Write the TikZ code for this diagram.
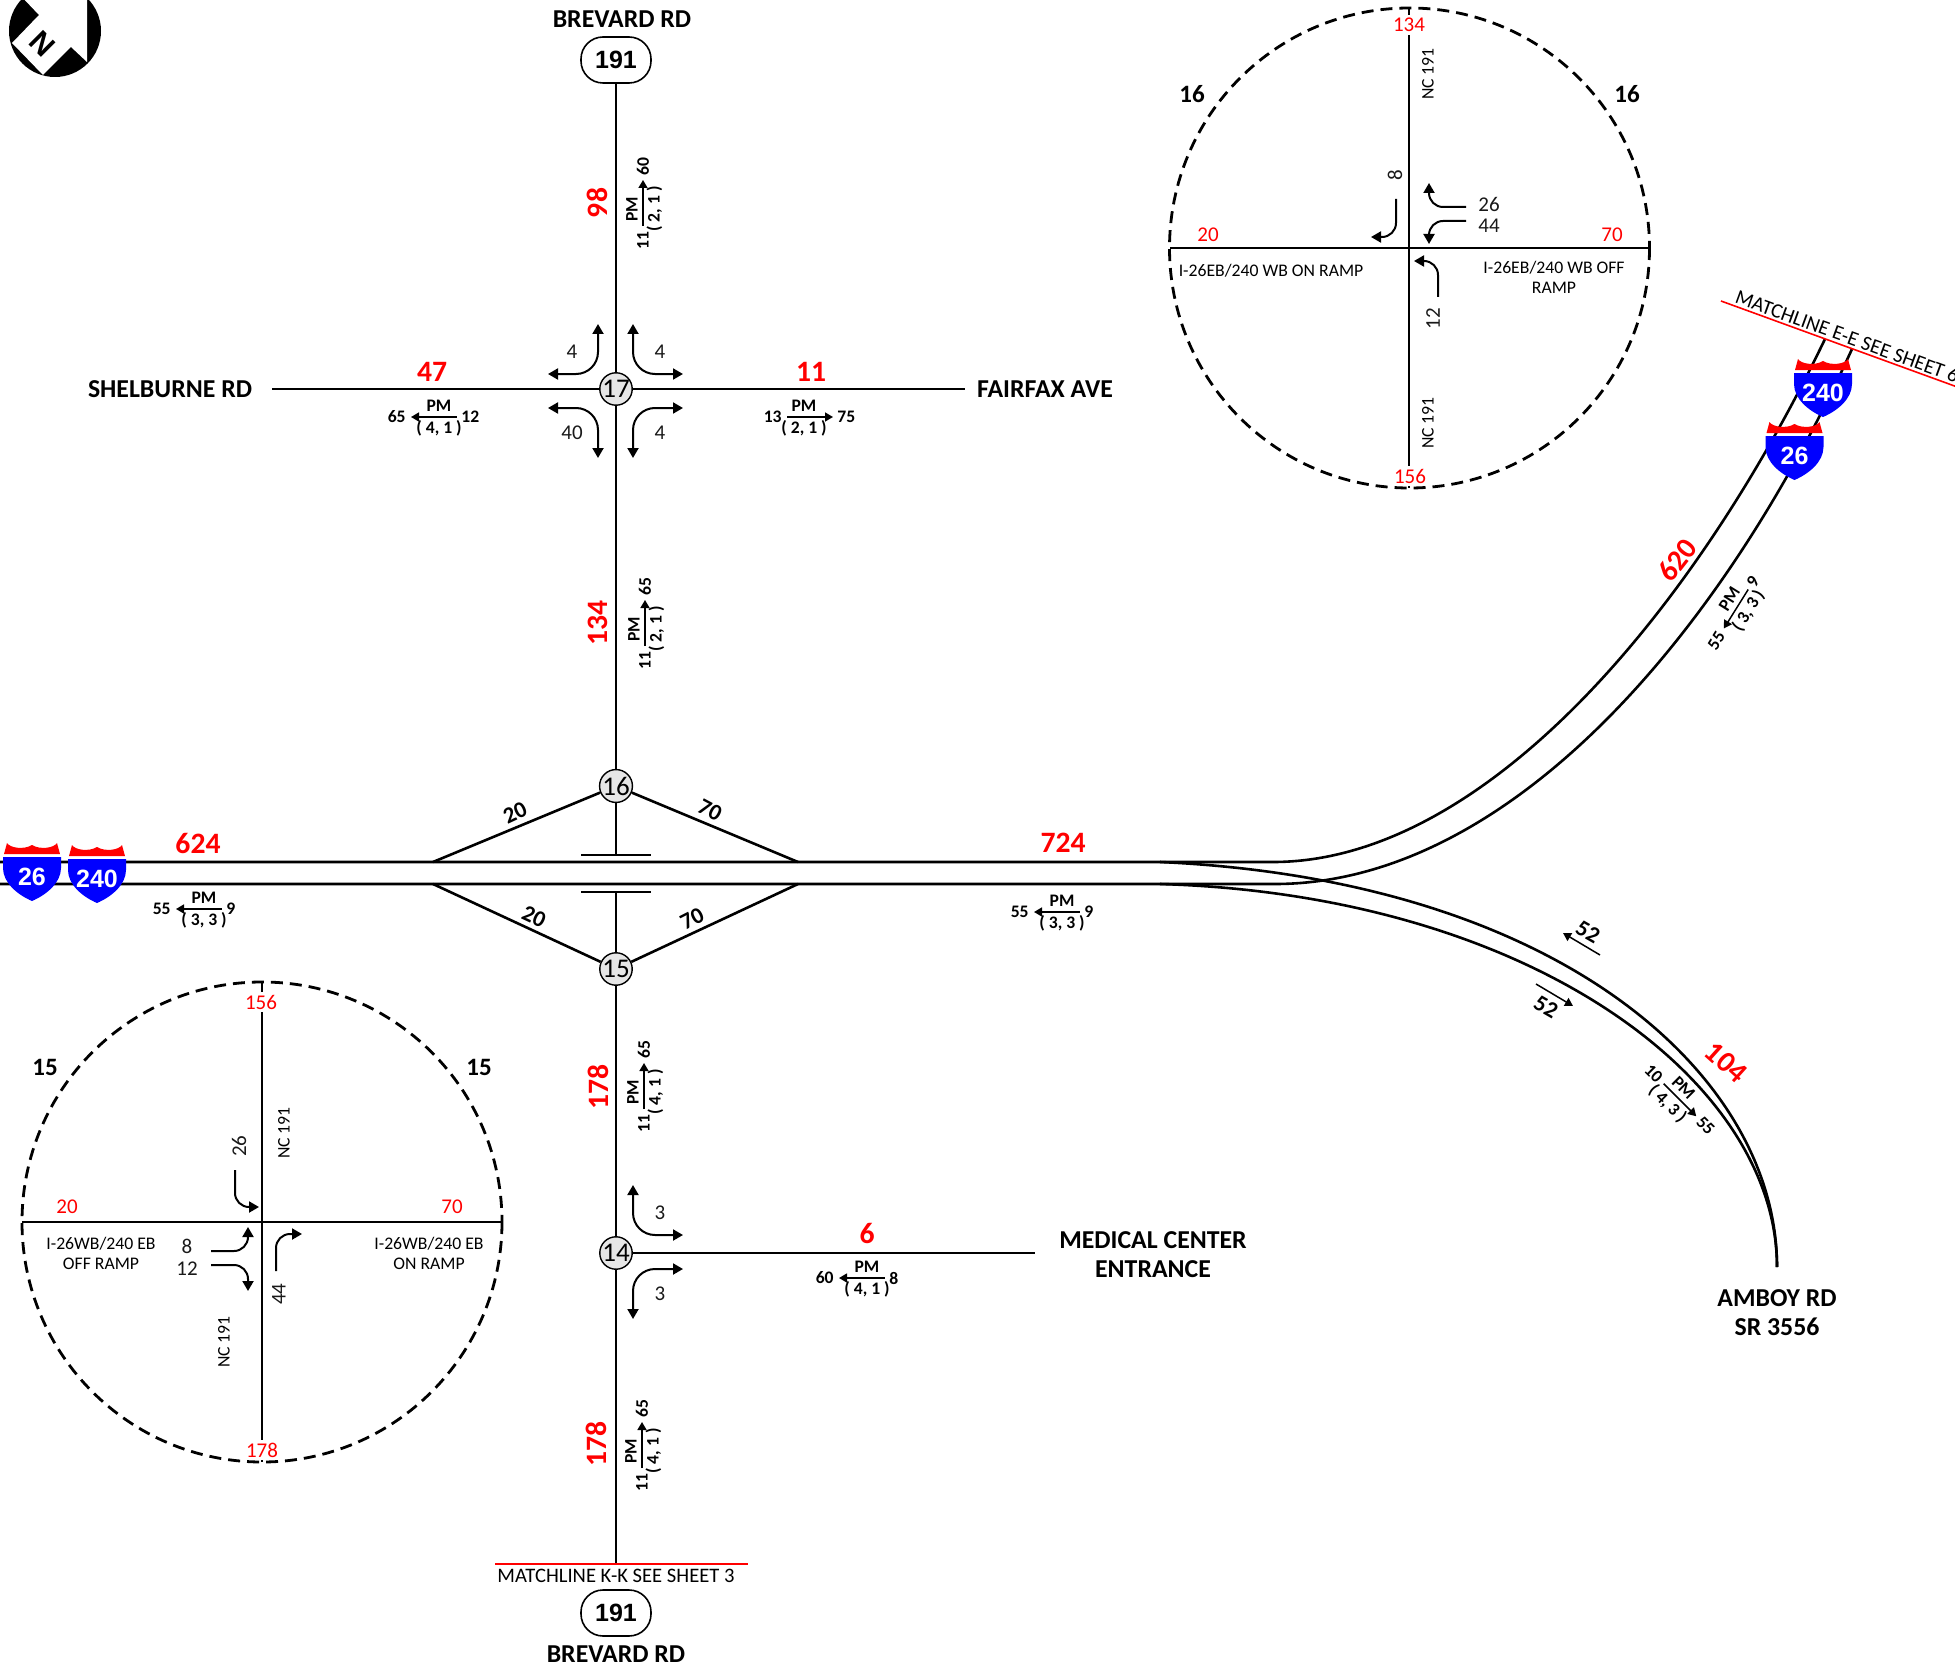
\documentclass[tikz,border=0pt]{standalone}
\usepackage{fontspec}
\setmainfont{Carlito}
\newfontfamily\shieldfont{Liberation Sans}
\usetikzlibrary{arrows.meta}

\definecolor{nodegray}{RGB}{230,230,230}
\tikzset{
  >={Triangle[length=5pt,width=5.5pt]},
  road/.style={line width=1.3pt},
  thinroad/.style={line width=1.2pt},
  matchline/.style={draw=red,line width=0.8pt},
  flowline/.style={line width=0.75pt,>={Triangle[length=4pt,width=4.5pt]}},
  turnline/.style={line width=1pt,rounded corners=11pt},
  smallturn/.style={line width=1pt,rounded corners=7pt},
  ring/.style={line width=1.4pt,dash pattern=on 6pt off 3.5pt},
  junction/.style={circle,draw,fill=nodegray,line width=0.7pt,minimum size=14pt,inner sep=0pt,font=\fontsize{13.5}{14}\selectfont},
  routeshield/.style={draw,line width=0.8pt,rounded corners=11pt,fill=white,minimum width=35pt,minimum height=23pt,inner sep=0pt,font=\shieldfont\bfseries\fontsize{12.5}{14}\selectfont},
  shieldtext/.style={text=white,inner sep=0pt,font=\shieldfont\bfseries\fontsize{12.5}{14}\selectfont},
  volume/.style={text=red,inner sep=0pt,font=\bfseries\fontsize{14.8}{16}\selectfont},
  roadname/.style={inner sep=0pt,align=center,font=\bfseries\fontsize{12.9}{14.5}\selectfont},
  tagtext/.style={inner sep=0pt,font=\bfseries\fontsize{8.8}{10}\selectfont},
  turncount/.style={inner sep=0pt,text=black!90,font=\fontsize{10.5}{12}\selectfont},
  rampcount/.style={inner sep=0pt,font=\bfseries\fontsize{11.5}{13}\selectfont},
  insetred/.style={inner sep=0pt,text=red,font=\fontsize{10.5}{12}\selectfont},
  insetredcap/.style={insetred,fill=white,inner sep=1.5pt},
  insetno/.style={inner sep=0pt,font=\bfseries\fontsize{12.5}{14}\selectfont},
  insettext/.style={inner sep=0pt,align=center,text=black,font=\fontsize{8.85}{10}\selectfont},
  matchtext/.style={inner sep=0pt,text=black,font=\fontsize{10.3}{11}\selectfont},
}

% flow tag: name, x, y, angle, tip, PM shift, left number, right number, lanes
\newcommand{\flowtag}[9]{%
  \begin{scope}[shift={(#2,#3)},rotate={-(#4)}]
    \coordinate (#1a) at (-23,0);
    \coordinate (#1b) at (23,0);
    \draw[flowline,#5] (#1a) -- (#1b);
    \node (#1p) [tagtext,rotate=#4] at (#6,-11) {PM};
    \node (#1q) [tagtext,rotate=#4] at (#6,11.5) {( #9 )};
    \node (#1l) [tagtext,rotate=#4,anchor=east] at (-28,0) {#7};
    \node (#1r) [tagtext,rotate=#4,anchor=west] at (27,0) {#8};
  \end{scope}}

% interstate shield: name, x, y of the top of the blue part, route
\newcommand{\ishield}[4]{%
  \begin{scope}[shift={(#2,#3)}]
    \fill[red] (-28,-3) -- (-25,-14) .. controls (-22,-9) and (-8,-7) .. (0,-12) .. controls (8,-7) and (22,-9) .. (25,-14) -- (28,-3) -- cycle;
    \fill[blue] (-29,0) -- (29,0) -- (29,11) .. controls (29,26) and (14,38) .. (0,44) .. controls (-14,38) and (-29,26) .. (-29,11) -- cycle;
    \node (#1) [shieldtext] at (0,20) {#4};
  \end{scope}}

\begin{document}
\begin{tikzpicture}[x=0.5pt,y=0.5pt,yscale=-1,xscale=1]
\useasboundingbox (0,0) rectangle (1955,1669);

% North arrow
\fill (55,31) circle[radius=46];
\fill[white] (12,43) -- (39,15) -- (20,-5) -- (87,-5) -- (87,62) -- (71,47) -- (43,75) -- cycle;
\draw (42,44) node (north) [rotate=-45,inner sep=0pt,font=\shieldfont\bfseries\fontsize{15}{16}\selectfont] {N};

% Junctions
\draw (616,389) node (j17) [junction] {17};
\draw (616,786) node (j16) [junction] {16};
\draw (616,969) node (j15) [junction] {15};
\draw (616,1253) node (j14) [junction] {14};
\draw (616,60) node (top191) [routeshield] {191};
\draw (616,1613) node (bot191) [routeshield] {191};

% Road ends
\coordinate (shel) at (272,389);
\coordinate (fair) at (965,389);
\coordinate (medi) at (1035,1253);
\coordinate (bridgeN) at (616,855);
\coordinate (bridgeS) at (616,892);
\coordinate (lineK) at (616,1564);
\coordinate (rampNW) at (433,862);
\coordinate (rampNE) at (798,862);
\coordinate (rampSW) at (433,884);
\coordinate (rampSE) at (798,884);

%Straight Lines
\draw [road] (top191) -- (j17);
\draw [road] (j17) -- (j16);
\draw [road] (j17) -- (shel);
\draw [road] (j17) -- (fair);
\draw [road] (j16) -- (bridgeN);
\draw [road] (j15) -- (bridgeS);
\draw [road] (j15) -- (j14);
\draw [road] (j14) -- (medi);
\draw [road] (j14) -- (lineK);
\draw [thinroad] (581,855) -- (651,855);
\draw [thinroad] (581,892) -- (651,892);
\draw [road] (j16) -- (rampNW);
\draw [road] (j16) -- (rampNE);
\draw [road] (j15) -- (rampSW);
\draw [road] (j15) -- (rampSE);

% Freeway
\coordinate (wTop) at (0,862);
\coordinate (wBot) at (0,884);
\coordinate (splitTop) at (1160,862);
\coordinate (splitBot) at (1160,884);
\coordinate (eTop) at (1273,862);
\coordinate (eBot) at (1275,884);
\coordinate (endE1) at (1825,339);
\coordinate (endE2) at (1852,349);
\coordinate (amboy) at (1777,1267);
\draw [road] (wTop) -- (eTop) .. controls (1480,862) and (1690,620) .. (endE1);
\draw [road] (wBot) -- (eBot) .. controls (1500,884) and (1715,650) .. (endE2);
\draw [road] (splitTop) .. controls (1560,880) and (1777,1075) .. (amboy);
\draw [road] (splitBot) .. controls (1530,895) and (1777,1080) .. (amboy);

% Matchlines
\draw [matchline] (495,1564) -- (748,1564);
\draw [matchline] (1721,301) -- (1960,388);
\draw (616,1576) node (matchK) [matchtext] {MATCHLINE K-K SEE SHEET 3};
\draw (1736,296) node (matchE) [matchtext,anchor=west,rotate=-20] {MATCHLINE E-E SEE SHEET 6};

% Shields
\ishield{s26w}{32}{857}{26}
\ishield{s240w}{97}{859}{240}
\ishield{s240e}{1823}{373}{240}
\ishield{s26e}{1794.5}{436}{26}

% Road names
\draw (622,19) node (brevN) [roadname] {BREVARD RD};
\draw (616,1654) node (brevS) [roadname] {BREVARD RD};
\draw (170,389) node (shelname) [roadname] {SHELBURNE RD};
\draw (1045,389) node (fairname) [roadname] {FAIRFAX AVE};
\draw (1153,1255) node (mediname) [roadname] {MEDICAL CENTER\\ENTRANCE};
\draw (1777,1313) node (amboyname) [roadname] {AMBOY RD\\SR 3556};

% Volumes
\draw (597,203) node (v98) [volume,rotate=90] {98};
\draw (432,372) node (v47) [volume] {47};
\draw (811,372) node (v11) [volume] {11};
\draw (598,623) node (v134) [volume,rotate=90] {134};
\draw (198,844) node (v624) [volume] {624};
\draw (1063,843) node (v724) [volume] {724};
\draw (1677,560) node (v620) [volume,rotate=52] {620};
\draw (1726,1062) node (v104) [volume,rotate=-42] {104};
\draw (598,1087) node (v178a) [volume,rotate=90] {178};
\draw (867,1233) node (v6) [volume] {6};
\draw (596,1444) node (v178b) [volume,rotate=90] {178};

% Flow tags
\flowtag{t98}{643}{203}{90}{->}{-6}{11}{60}{2, 1}
\flowtag{t47}{434}{417}{0}{<-}{5}{65}{12}{4, 1}
\flowtag{t11}{810}{417}{0}{->}{-6}{13}{75}{2, 1}
\flowtag{t134}{645}{623}{90}{->}{-6}{11}{65}{2, 1}
\flowtag{t624}{199}{909}{0}{<-}{5}{55}{9}{3, 3}
\flowtag{t724}{1057}{912}{0}{<-}{5}{55}{9}{3, 3}
\flowtag{t620}{1736}{609}{58}{<-}{5}{55}{9}{3, 3}
\flowtag{t104}{1680}{1100}{-45}{->}{-6}{10}{55}{4, 3}
\flowtag{t178a}{644}{1086}{90}{->}{-6}{11}{65}{4, 1}
\flowtag{t6}{862}{1278}{0}{<-}{5}{60}{8}{4, 1}
\flowtag{t178b}{642}{1445}{90}{->}{-6}{11}{65}{4, 1}

% Ramp counts
\draw (515,813) node (r20n) [rampcount,rotate=25] {20};
\draw (710,810) node (r70n) [rampcount,rotate=-28] {70};
\draw (534,917) node (r20s) [rampcount,rotate=-25] {20};
\draw (692,919) node (r70s) [rampcount,rotate=27] {70};

% Amboy counts
\coordinate (a52a) at (1600,955);
\coordinate (a52b) at (1563,933);
\coordinate (a52c) at (1536,984);
\coordinate (a52d) at (1573,1006);
\draw [flowline,->] (a52a) -- (a52b);
\draw [flowline,->] (a52c) -- (a52d);
\draw (1588,932) node (c52a) [rampcount,rotate=-30] {52};
\draw (1546,1007) node (c52b) [rampcount,rotate=-30] {52};

% Turns at 17
\coordinate (k1a) at (598,324); \coordinate (k1b) at (548,374);
\coordinate (k2a) at (633,324); \coordinate (k2b) at (683,374);
\coordinate (k3a) at (598,458); \coordinate (k3b) at (548,408);
\coordinate (k4a) at (633,458); \coordinate (k4b) at (683,408);
\draw [turnline,<->] (k1a) |- (k1b);
\draw [turnline,<->] (k2a) |- (k2b);
\draw [turnline,<->] (k3a) |- (k3b);
\draw [turnline,<->] (k4a) |- (k4b);
\draw (572,352) node (n1) [turncount] {4};
\draw (660,352) node (n2) [turncount] {4};
\draw (572,433) node (n3) [turncount] {40};
\draw (660,433) node (n4) [turncount] {4};

% Turns at 14
\coordinate (k5a) at (633,1185); \coordinate (k5b) at (683,1235);
\coordinate (k6a) at (633,1319); \coordinate (k6b) at (683,1269);
\draw [turnline,<->] (k5a) |- (k5b);
\draw [turnline,<->] (k6a) |- (k6b);
\draw (660,1213) node (n5) [turncount] {3};
\draw (660,1294) node (n6) [turncount] {3};

% Inset 16
\coordinate (c16) at (1409.5,248);
\coordinate (c16t) at (1409,8);
\coordinate (c16b) at (1409,488);
\coordinate (c16l) at (1170,248);
\coordinate (c16r) at (1649,248);
\draw [ring] (c16) circle[radius=240];
\draw [thinroad,line width=1.1pt] (c16t) -- (c16b);
\draw [thinroad,line width=1.1pt] (c16l) -- (c16r);
\draw (1409,25) node (i134) [insetredcap] {134};
\draw (1410,476) node (i156) [insetredcap] {156};
\draw (1208,235) node (i20) [insetred] {20};
\draw (1612,235) node (i70) [insetred] {70};
\draw (1192,94) node (i16a) [insetno] {16};
\draw (1627,94) node (i16b) [insetno] {16};
\draw (1428,74) node (nca) [insettext,rotate=90] {NC 191};
\draw (1428,423) node (ncb) [insettext,rotate=90] {NC 191};
\draw (1271,271) node (onr) [insettext] {I-26EB/240 WB ON RAMP};
\draw (1554,277) node (offr) [insettext] {I-26EB/240 WB OFF\\RAMP};
\draw (1395,175) node (q8) [turncount,rotate=90] {8};
\draw (1489,204) node (q26) [turncount] {26};
\draw (1489,226) node (q44) [turncount] {44};
\draw (1433,319) node (q12) [turncount,rotate=90] {12};
\coordinate (m1a) at (1396,199); \coordinate (m1b) at (1371,237);
\coordinate (m2a) at (1466,207); \coordinate (m2b) at (1429,183);
\coordinate (m3a) at (1466,221); \coordinate (m3b) at (1429,244);
\coordinate (m4a) at (1438,297); \coordinate (m4b) at (1414,261);
\draw [smallturn,->] (m1a) |- (m1b);
\draw [smallturn,->] (m2a) -| (m2b);
\draw [smallturn,->] (m3a) -| (m3b);
\draw [smallturn,->] (m4a) |- (m4b);

% Inset 15
\coordinate (c15) at (262,1222);
\coordinate (c15t) at (262,982);
\coordinate (c15b) at (262,1462);
\coordinate (c15l) at (22,1222);
\coordinate (c15r) at (502,1222);
\draw [ring] (c15) circle[radius=240];
\draw [thinroad,line width=1.1pt] (c15t) -- (c15b);
\draw [thinroad,line width=1.1pt] (c15l) -- (c15r);
\draw (261,1002) node (o156) [insetredcap] {156};
\draw (262,1450) node (o178) [insetredcap] {178};
\draw (67,1207) node (o20) [insetred] {20};
\draw (452,1207) node (o70) [insetred] {70};
\draw (45,1067) node (o15a) [insetno] {15};
\draw (479,1067) node (o15b) [insetno] {15};
\draw (284,1133) node (ncc) [insettext,rotate=90] {NC 191};
\draw (224,1342) node (ncd) [insettext,rotate=90] {NC 191};
\draw (101,1253) node (offl) [insettext] {I-26WB/240 EB\\OFF RAMP};
\draw (429,1253) node (onl) [insettext] {I-26WB/240 EB\\ON RAMP};
\draw (239,1146) node (p26) [turncount,rotate=90] {26};
\draw (187,1246) node (p8) [turncount] {8};
\draw (187,1269) node (p12) [turncount] {12};
\draw (279,1294) node (p44) [turncount,rotate=90] {44};
\coordinate (h1a) at (235,1170); \coordinate (h1b) at (259,1207);
\coordinate (h2a) at (211,1251); \coordinate (h2b) at (248,1227);
\coordinate (h3a) at (211,1265); \coordinate (h3b) at (248,1291);
\coordinate (h4a) at (276,1271); \coordinate (h4b) at (302,1234);
\draw [smallturn,->] (h1a) |- (h1b);
\draw [smallturn,->] (h2a) -| (h2b);
\draw [smallturn,->] (h3a) -| (h3b);
\draw [smallturn,->] (h4a) |- (h4b);

\end{tikzpicture}
\end{document}
